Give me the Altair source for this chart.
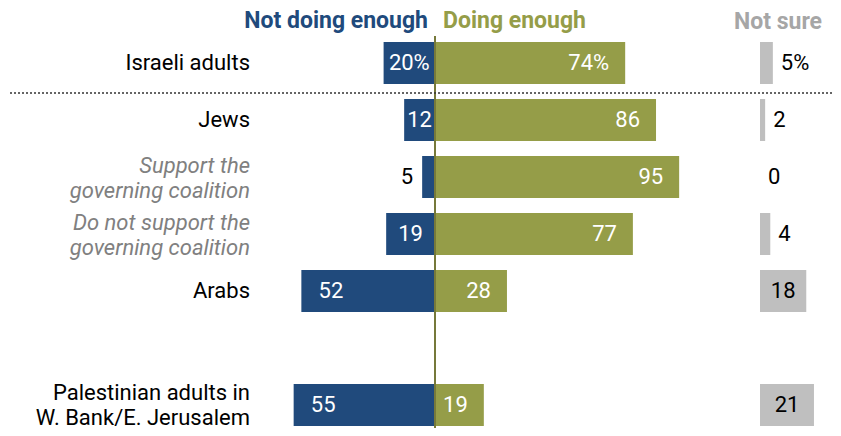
import altair as alt
import pandas as pd

# ---- data ----
groups = [
    "Israeli adults",
    "Jews",
    "Support the\ngoverning coalition",
    "Do not support the\ngoverning coalition",
    "Arabs",
    "Palestinian adults in\nW. Bank/E. Jerusalem",
]
not_enough = [20, 12, 5, 19, 52, 55]
enough = [74, 86, 95, 77, 28, 19]
not_sure = [5, 2, 0, 4, 18, 21]
not_enough_labels = ["20%", "12", "5", "19", "52", "55"]
enough_labels = ["74%", "86", "95", "77", "28", "19"]
not_sure_labels = ["5%", "2", "0", "4", "18", "21"]

subgroups = ["Support the\ngoverning coalition", "Do not support the\ngoverning coalition"]
y_order = groups[:5] + ["spacer"] + groups[5:]

df = pd.DataFrame({
    "group": groups,
    "ne": not_enough,
    "en": enough,
    "ns": not_sure,
    "ne_lab": not_enough_labels,
    "en_lab": enough_labels,
    "ns_lab": not_sure_labels,
})

NAVY = "#204A7C"
OLIVE = "#959D48"
GRAY = "#BFBFBF"
FONT = "Roboto"
FS = 22

W, H = 825, 420
xdiv = alt.Scale(domain=[-100, 100], range=[170, 684])
xns = alt.Scale(domain=[0, 100], range=[752, 1009])
yscale = alt.Scale(domain=y_order, range=[26.5, 425.5], paddingInner=0.263, paddingOuter=0.1315)
Y = alt.Y("group:N", scale=yscale, axis=None)

base = alt.Chart(df)

left_bars = base.transform_calculate(neg="-datum.ne").mark_bar(color=NAVY).encode(
    x=alt.X("neg:Q", scale=xdiv, axis=None), x2=alt.X2(datum=0), y=Y
)
right_bars = base.mark_bar(color=OLIVE).encode(
    x=alt.X("en:Q", scale=xdiv, axis=None), x2=alt.X2(datum=0), y=Y
)
left_text_in = base.transform_filter("datum.ne >= 10").transform_calculate(
    lx="-datum.ne + min(datum.ne / 2, 11.5)"
).mark_text(align="center", baseline="middle", color="white", font=FONT, fontSize=FS).encode(
    x=alt.X("lx:Q", scale=xdiv, axis=None), y=Y, text="ne_lab:N"
)
left_text_out = base.transform_filter("datum.ne < 10").transform_calculate(
    lx="-datum.ne"
).mark_text(align="right", baseline="middle", dx=-9, color="black", font=FONT, fontSize=FS).encode(
    x=alt.X("lx:Q", scale=xdiv, axis=None), y=Y, text="ne_lab:N"
)
right_text = base.mark_text(align="right", baseline="middle", dx=-16, color="white", font=FONT, fontSize=FS).encode(
    x=alt.X("en:Q", scale=xdiv, axis=None), y=Y, text="en_lab:N"
)

ns_bars = base.transform_filter("datum.ns > 0").mark_bar(color=GRAY).encode(
    x=alt.X("ns:Q", scale=xns, axis=None), x2=alt.X2(datum=0), y=Y
)
ns_text_out = base.transform_filter("datum.ns < 10").mark_text(
    align="left", baseline="middle", dx=8, color="black", font=FONT, fontSize=FS
).encode(x=alt.X("ns:Q", scale=xns, axis=None), y=Y, text="ns_lab:N")
ns_text_in = base.transform_filter("datum.ns >= 10").transform_calculate(
    mx="datum.ns / 2"
).mark_text(align="center", baseline="middle", color="black", font=FONT, fontSize=FS).encode(
    x=alt.X("mx:Q", scale=xns, axis=None), y=Y, text="ns_lab:N"
)

is_multi = "indexof(datum.group, '\\n') >= 0"
not_sub = {"not": alt.FieldOneOfPredicate(field="group", oneOf=subgroups)}
is_sub = alt.FieldOneOfPredicate(field="group", oneOf=subgroups)

label_kw = dict(align="right", baseline="middle", lineBreak="\n", lineHeight=25, font=FONT, fontSize=FS)
cat_main_single = base.transform_filter(not_sub).transform_filter("!(" + is_multi + ")").mark_text(
    color="black", **label_kw
).encode(x=alt.value(242), y=Y, text="group:N")
cat_main_multi = base.transform_filter(not_sub).transform_filter(is_multi).mark_text(
    color="black", dy=-12.5, **label_kw
).encode(x=alt.value(242), y=Y, text="group:N")
cat_sub = base.transform_filter(is_sub).mark_text(
    color="#808080", fontStyle="italic", dy=-11.5, **label_kw
).encode(x=alt.value(242), y=Y, text="group:N")

one = alt.Chart(pd.DataFrame({"a": [0]}))
center_rule = one.mark_rule(color="#76793A", strokeWidth=2).encode(
    x=alt.X(datum=0, scale=xdiv, axis=None), y=alt.value(28), y2=alt.value(H)
)
dotted = one.mark_rule(color="#333333", strokeWidth=1.5, strokeDash=[2, 2]).encode(
    x=alt.value(2), x2=alt.value(W), y=alt.value(85)
)
HFS = 23
h1 = one.mark_text(align="right", baseline="middle", font=FONT, fontSize=HFS, fontWeight="bold",
                   color=NAVY, text="Not doing enough").encode(x=alt.value(420), y=alt.value(13))
h2 = one.mark_text(align="left", baseline="middle", font=FONT, fontSize=HFS, fontWeight="bold",
                   color=OLIVE, text="Doing enough").encode(x=alt.value(435), y=alt.value(13))
h3 = one.mark_text(align="center", baseline="middle", font=FONT, fontSize=HFS, fontWeight="bold",
                   color="#A6A6A6", text="Not sure").encode(x=alt.value(770), y=alt.value(14))

chart = alt.layer(
    left_bars, right_bars, ns_bars, center_rule, dotted,
    left_text_in, left_text_out, right_text, ns_text_out, ns_text_in,
    cat_main_single, cat_main_multi, cat_sub, h1, h2, h3,
).resolve_scale(x="independent").properties(
    width=W, height=H, autosize="none", padding=0
).configure_view(strokeWidth=0)

chart.save("out.html", embed_options={"renderer": "svg", "actions": False})
